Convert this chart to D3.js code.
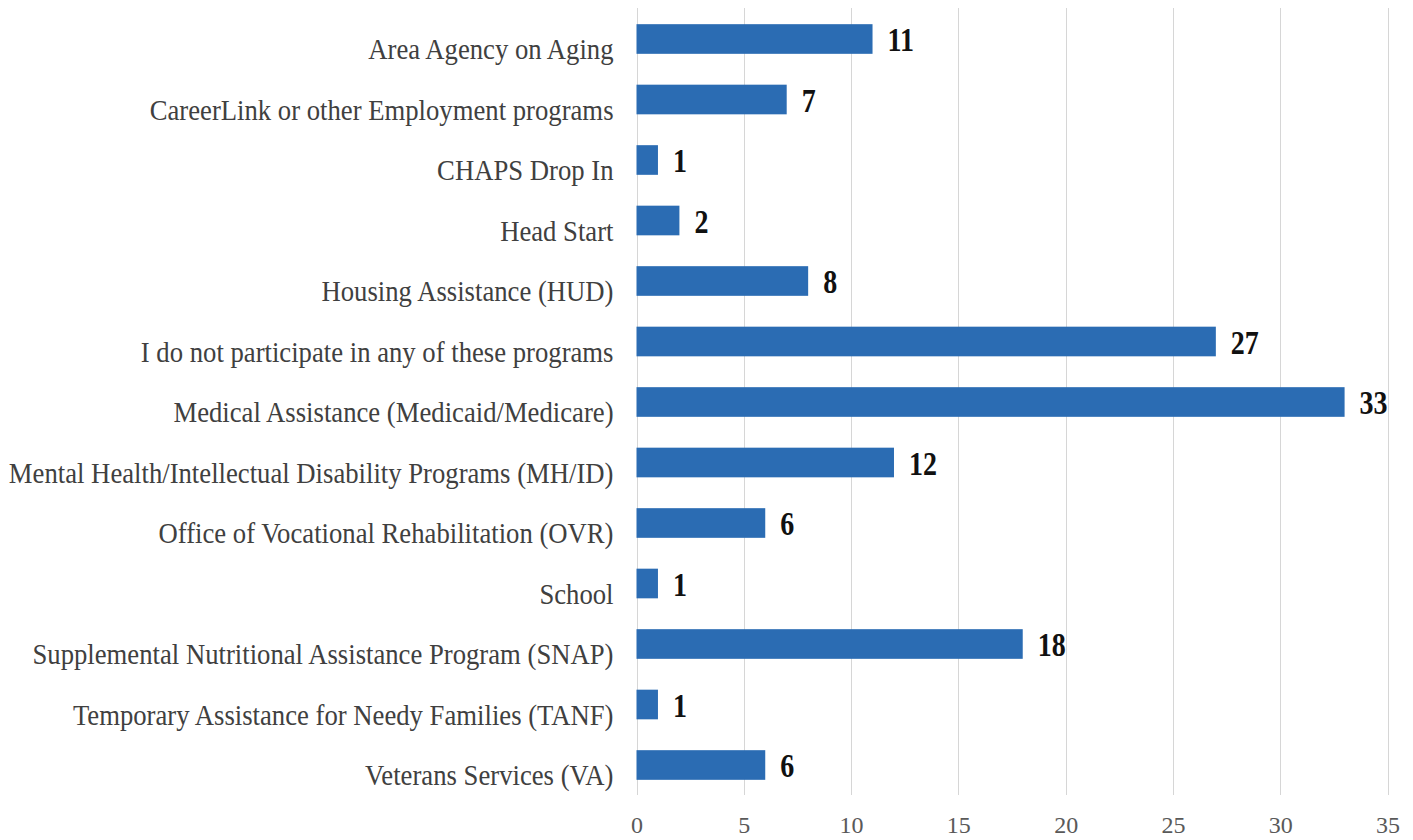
<!DOCTYPE html>
<html>
<head>
<meta charset="utf-8">
<script src="https://cdn.jsdelivr.net/npm/d3@7/dist/d3.min.js"></script>
<style>
  html, body { margin: 0; padding: 0; background: #ffffff; }
  svg { display: block; }
</style>
</head>
<body>
<svg id="chart" width="1413" height="840"></svg>
<script>
const categories = [
  "Area Agency on Aging",
  "CareerLink or other Employment programs",
  "CHAPS Drop In",
  "Head Start",
  "Housing Assistance (HUD)",
  "I do not participate in any of these programs",
  "Medical Assistance (Medicaid/Medicare)",
  "Mental Health/Intellectual Disability Programs (MH/ID)",
  "Office of Vocational Rehabilitation (OVR)",
  "School",
  "Supplemental Nutritional Assistance Program (SNAP)",
  "Temporary Assistance for Needy Families (TANF)",
  "Veterans Services (VA)"
];
const values = [11, 7, 1, 2, 8, 27, 33, 12, 6, 1, 18, 1, 6];
const tickValues = [0, 5, 10, 15, 20, 25, 30, 35];

const FONT = "'Liberation Serif', 'Times New Roman', serif";
const svg = d3.select("#chart");
const x = d3.scaleLinear().domain([0, 35]).range([636.5, 1387.5]);
const y = d3.scaleBand().domain(categories).range([8.75, 795.25])
  .paddingInner(0.51).paddingOuter(0.255);

// gridlines
svg.append("g").selectAll("line").data(tickValues).join("line")
  .attr("x1", d => Math.round(x(d)) + 0.5).attr("x2", d => Math.round(x(d)) + 0.5)
  .attr("y1", 8).attr("y2", 795)
  .attr("stroke", "#d6d6d6").attr("stroke-width", 1);

// x axis labels
const xAxis = d3.axisBottom(x).tickValues(tickValues).tickSize(0).tickPadding(0);
const gx = svg.append("g").attr("transform", "translate(0,833)").call(xAxis);
gx.select(".domain").remove();
gx.selectAll("text")
  .attr("font-family", FONT)
  .attr("font-size", 24).attr("fill", "#595959")
  .attr("y", 0).attr("dy", 0);

// bars
svg.append("g").selectAll("rect").data(values).join("rect")
  .attr("x", x(0))
  .attr("y", (d, i) => y(categories[i]))
  .attr("width", d => x(d) - x(0))
  .attr("height", y.bandwidth())
  .attr("fill", "#2b6cb3");

// category labels
const yAxis = d3.axisLeft(y).tickSize(0).tickPadding(23);
const gy = svg.append("g").attr("transform", `translate(${x(0)},0)`).call(yAxis);
gy.select(".domain").remove();
gy.selectAll("text")
  .attr("font-family", FONT)
  .attr("font-size", 26.7).attr("fill", "#404040")
  .attr("dy", 17.9)
  .attr("transform", "scale(1,1.12)");

// value labels
svg.append("g").selectAll("text").data(values).join("text")
  .attr("transform", (d, i) => `translate(${x(d) + 15},${y(categories[i]) + y.bandwidth() / 2 + 12}) scale(1,1.2)`)
  .attr("font-family", FONT)
  .attr("font-weight", "bold")
  .attr("font-size", 28).attr("fill", "#111")
  .text(d => d);
</script>
</body>
</html>
